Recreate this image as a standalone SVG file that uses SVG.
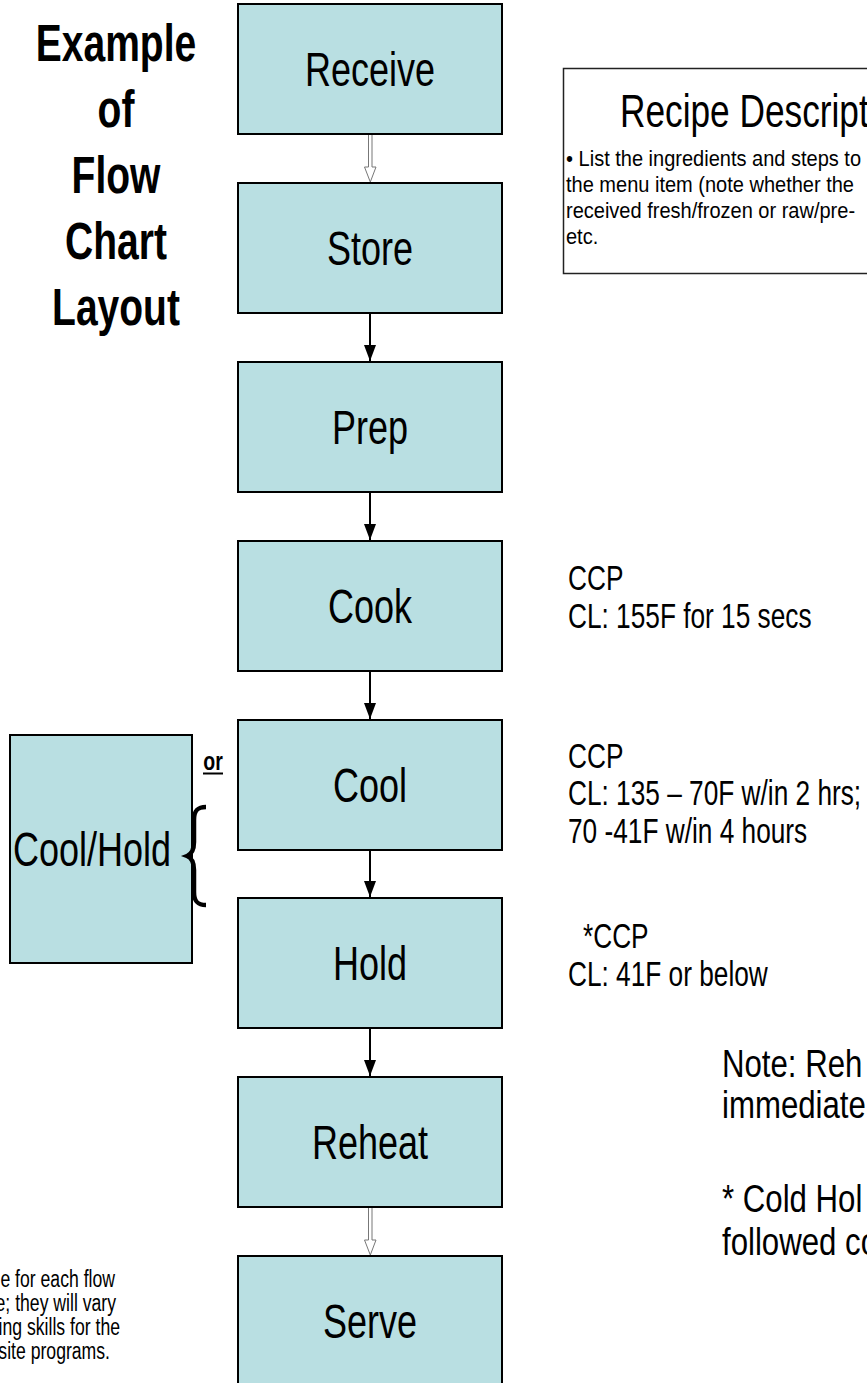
<svg xmlns="http://www.w3.org/2000/svg" width="867" height="1383" viewBox="0 0 867 1383">
<style>
.box{fill:#b9dfe2;stroke:#000;stroke-width:2}
.t{font-family:"Liberation Sans",Arial,sans-serif;fill:#000}
.lbl{font-size:48px;text-anchor:middle}
.ttl{font-size:52px;font-weight:bold;text-anchor:middle}
.ccp{font-size:35px}
.note{font-size:39px}
.rec{font-size:47px}
.sm{font-size:22px}
.bl{font-size:23.5px;text-anchor:end}
.solid{stroke:#000;stroke-width:2;fill:none}
.hollow{stroke:#777;stroke-width:1;fill:#fff}
</style>
<defs>
<marker id="ah" viewBox="0 0 16 12" refX="16" refY="6" markerWidth="16" markerHeight="12" markerUnits="userSpaceOnUse" orient="auto">
<path d="M0,0 L16,6 L0,12 Z" fill="#000"/>
</marker>
</defs>
<rect width="867" height="1383" fill="#fff"/>

<g id="title">
<text class="t ttl" transform="translate(116,61) scale(0.75,1)">Example</text>
<text class="t ttl" transform="translate(116,127) scale(0.75,1)">of</text>
<text class="t ttl" transform="translate(116,193) scale(0.75,1)">Flow</text>
<text class="t ttl" transform="translate(116,259) scale(0.75,1)">Chart</text>
<text class="t ttl" transform="translate(116,325) scale(0.75,1)">Layout</text>
</g>

<g id="connectors">
<path class="hollow" d="M368.5,134 V167 H364.5 L370.3,182 L376,167 H372 V134"/>
<line class="solid" x1="370" y1="313" x2="370" y2="361" marker-end="url(#ah)"/>
<line class="solid" x1="370" y1="492" x2="370" y2="540" marker-end="url(#ah)"/>
<line class="solid" x1="370" y1="671" x2="370" y2="719" marker-end="url(#ah)"/>
<line class="solid" x1="370" y1="850" x2="370" y2="897" marker-end="url(#ah)"/>
<line class="solid" x1="370" y1="1028" x2="370" y2="1076" marker-end="url(#ah)"/>
<path class="hollow" d="M368.5,1207 V1240 H364.5 L370.3,1255 L376,1240 H372 V1207"/>
</g>

<g id="receive"><rect class="box" x="238" y="4" width="264" height="130"/><text class="t lbl" transform="translate(370,86) scale(0.75,1)">Receive</text></g>
<g id="store"><rect class="box" x="238" y="183" width="264" height="130"/><text class="t lbl" transform="translate(370,265) scale(0.75,1)">Store</text></g>
<g id="prep"><rect class="box" x="238" y="362" width="264" height="130"/><text class="t lbl" transform="translate(370,444) scale(0.75,1)">Prep</text></g>
<g id="cook"><rect class="box" x="238" y="541" width="264" height="130"/><text class="t lbl" transform="translate(370,623) scale(0.75,1)">Cook</text></g>
<g id="cool"><rect class="box" x="238" y="720" width="264" height="130"/><text class="t lbl" transform="translate(370,802) scale(0.75,1)">Cool</text></g>
<g id="hold"><rect class="box" x="238" y="898" width="264" height="130"/><text class="t lbl" transform="translate(370,980) scale(0.75,1)">Hold</text></g>
<g id="reheat"><rect class="box" x="238" y="1077" width="264" height="130"/><text class="t lbl" transform="translate(370,1159) scale(0.75,1)">Reheat</text></g>
<g id="serve"><rect class="box" x="238" y="1256" width="264" height="140"/><text class="t lbl" transform="translate(370,1338) scale(0.75,1)">Serve</text></g>

<g id="coolhold"><rect class="box" x="10" y="735" width="182" height="228"/><text class="t lbl" transform="translate(92,866) scale(0.75,1)">Cool/Hold</text></g>

<g id="or">
<text class="t" font-size="26" font-weight="bold" text-anchor="middle" transform="translate(213,770) scale(0.75,1)">or</text>
<line x1="203" y1="773.5" x2="223" y2="773.5" stroke="#000" stroke-width="2"/>
</g>
<g id="brace">
<path d="M206,807 C197,807 194,811 194,820 L194,842 C194,850 192,854 187,856 C192,858 194,862 194,870 L194,892 C194,901 197,905 206,905" fill="none" stroke="#000" stroke-width="4.5"/>
</g>

<g id="recipe">
<rect x="563.5" y="68.5" width="320" height="205" fill="#fff" stroke="#222" stroke-width="1.5"/>
<text class="t rec" transform="translate(620,127) scale(0.75,1)">Recipe Description</text>
<text class="t sm" transform="translate(566,166) scale(0.91,1)">• List the ingredients and steps to</text>
<text class="t sm" transform="translate(566,192) scale(0.91,1)">the menu item (note whether the</text>
<text class="t sm" transform="translate(566,218) scale(0.91,1)">received fresh/frozen or raw/pre-</text>
<text class="t sm" transform="translate(566,244) scale(0.91,1)">etc.</text>
</g>

<g id="cook-ccp">
<text class="t ccp" transform="translate(568,590) scale(0.75,1)">CCP</text>
<text class="t ccp" transform="translate(568,628) scale(0.75,1)">CL: 155F for 15 secs</text>
</g>
<g id="cool-ccp">
<text class="t ccp" transform="translate(568,768) scale(0.75,1)">CCP</text>
<text class="t ccp" transform="translate(568,805) scale(0.75,1)">CL: 135 – 70F w/in 2 hrs;</text>
<text class="t ccp" transform="translate(568,843) scale(0.75,1)">70 -41F w/in 4 hours</text>
</g>
<g id="hold-ccp">
<text class="t ccp" transform="translate(583,948) scale(0.75,1)">*CCP</text>
<text class="t ccp" transform="translate(568,986) scale(0.75,1)">CL: 41F or below</text>
</g>

<g id="notes">
<text class="t note" transform="translate(722,1077) scale(0.8,1)">Note: Reh</text>
<text class="t note" transform="translate(722,1118) scale(0.8,1)">immediate</text>
<text class="t note" transform="translate(722,1212) scale(0.8,1)">* Cold Hol</text>
<text class="t note" transform="translate(722,1255) scale(0.8,1)">followed co</text>
</g>

<g id="footnote">
<text class="t bl" transform="translate(115,1287) scale(0.75,1)">e for each flow</text>
<text class="t bl" transform="translate(116,1311) scale(0.75,1)">e; they will vary</text>
<text class="t bl" transform="translate(120,1335) scale(0.75,1)">ing skills for the</text>
<text class="t bl" transform="translate(110,1359) scale(0.75,1)">site programs.</text>
</g>
</svg>
